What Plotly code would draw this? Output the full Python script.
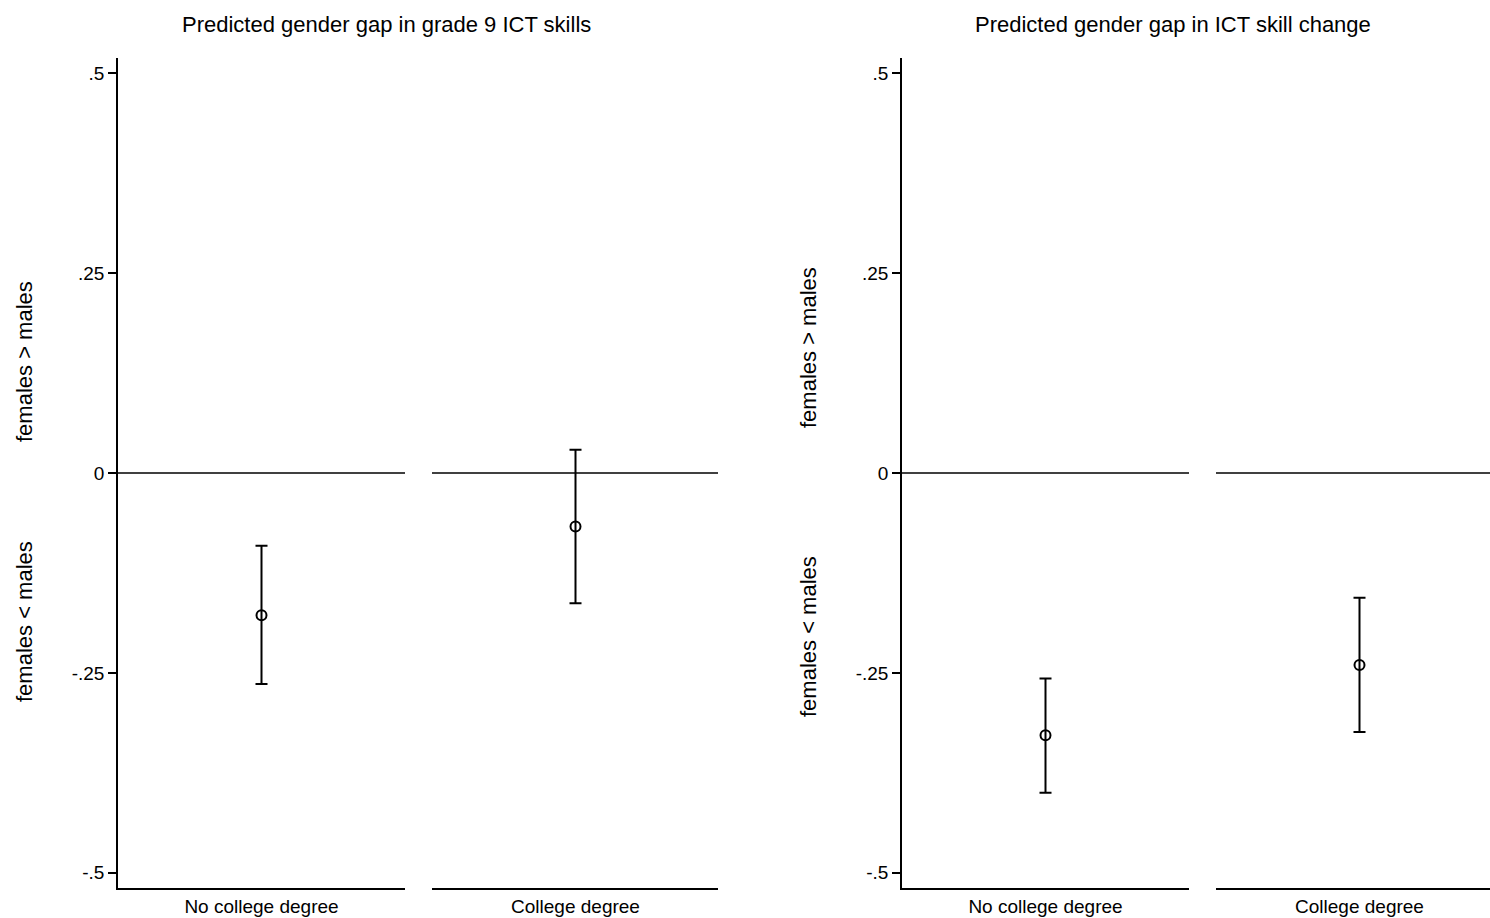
import plotly.graph_objects as go

panel_titles = ["Predicted gender gap in grade 9 ICT skills",
                "Predicted gender gap in ICT skill change"]
groups = ["No college degree", "College degree"]
estimate = [[-0.178, -0.067], [-0.328, -0.240]]
ci_low = [[-0.264, -0.163], [-0.400, -0.324]]
ci_high = [[-0.091, 0.029], [-0.257, -0.156]]
ytick_vals = [-0.5, -0.25, 0, 0.25, 0.5]
ytick_text = ["-.5", "-.25", "0", ".25", ".5"]
upper_label = "females > males"
lower_label = "females < males"

W, H = 1490, 918
FONT = "Liberation Sans, Arial, Helvetica, sans-serif"
PANEL_W = 287
scr_domains = [(118, 405), (432, 718), (902, 1189), (1216, 1490)]
plot_top, plot_bot = 58, 888
yr = [-0.519, 0.519]

fig = go.Figure()
layout = dict(width=W, height=H, margin=dict(l=0, r=0, t=0, b=0),
              paper_bgcolor="white", plot_bgcolor="white", showlegend=False,
              font=dict(family=FONT, color="black"))
shapes = []
annotations = []
ydom = [1 - plot_bot / H, 1 - plot_top / H]

for p in range(2):
    yname = "y" if p == 0 else "y2"
    for g in range(2):
        k = 2 * p + g + 1
        xname = "x" if k == 1 else f"x{k}"
        e = estimate[p][g]
        fig.add_trace(go.Scatter(
            x=[0], y=[e], xaxis=xname, yaxis=yname, mode="markers",
            marker=dict(symbol="circle-open", size=10, color="black",
                        line=dict(width=2, color="black")),
            error_y=dict(type="data", symmetric=False,
                         array=[ci_high[p][g] - e], arrayminus=[e - ci_low[p][g]],
                         color="black", thickness=2, width=6),
            hoverinfo="skip"))
        d0, d1 = scr_domains[k - 1]
        width_units = (d1 - d0) / PANEL_W
        axkey = "xaxis" if k == 1 else f"xaxis{k}"
        layout[axkey] = dict(domain=[d0 / W, min(d1 / W, 1)], anchor=yname,
                             range=[-0.5, -0.5 + width_units],
                             showline=True, linecolor="black", linewidth=1.5,
                             showgrid=False, zeroline=False,
                             tickvals=[0], ticktext=[groups[g]], ticks="",
                             tickfont=dict(size=19, family=FONT, color="black"),
                             fixedrange=True)
        shapes.append(dict(type="line", xref=f"{xname} domain", yref=yname,
                           x0=0, x1=1, y0=0, y1=0,
                           line=dict(color="black", width=1.5), layer="below"))
    ykey = "yaxis" if p == 0 else "yaxis2"
    xanchor = "x" if p == 0 else "x3"
    layout[ykey] = dict(domain=ydom, anchor=xanchor, range=yr,
                        showline=True, linecolor="black", linewidth=1.5,
                        showgrid=False, zeroline=False,
                        tickvals=ytick_vals, ticktext=ytick_text,
                        ticks="outside", ticklen=8, tickwidth=1.5, tickcolor="black",
                        tickfont=dict(size=19, family=FONT, color="black"),
                        fixedrange=True)

title_x = [386, 1173]
ytitle_x = [24, 808]
upper_y = [362, 348]
lower_y = [622, 637]
for p in range(2):
    annotations.append(dict(text=panel_titles[p], xref="paper", yref="paper",
                            x=title_x[p] / W, y=1 - 24 / H, showarrow=False,
                            xanchor="center", yanchor="middle",
                            font=dict(size=22, family=FONT, color="black")))
    annotations.append(dict(text=upper_label, xref="paper", yref="paper",
                            x=ytitle_x[p] / W, y=1 - upper_y[p] / H,
                            showarrow=False, textangle=-90,
                            xanchor="center", yanchor="middle",
                            font=dict(size=22, family=FONT, color="black")))
    annotations.append(dict(text=lower_label, xref="paper", yref="paper",
                            x=ytitle_x[p] / W, y=1 - lower_y[p] / H,
                            showarrow=False, textangle=-90,
                            xanchor="center", yanchor="middle",
                            font=dict(size=22, family=FONT, color="black")))

layout["shapes"] = shapes
layout["annotations"] = annotations
fig.update_layout(**layout)
fig.write_html("out.html", config={"displayModeBar": False},
               post_script="document.body.style.margin='0';document.body.style.overflow='hidden';")
